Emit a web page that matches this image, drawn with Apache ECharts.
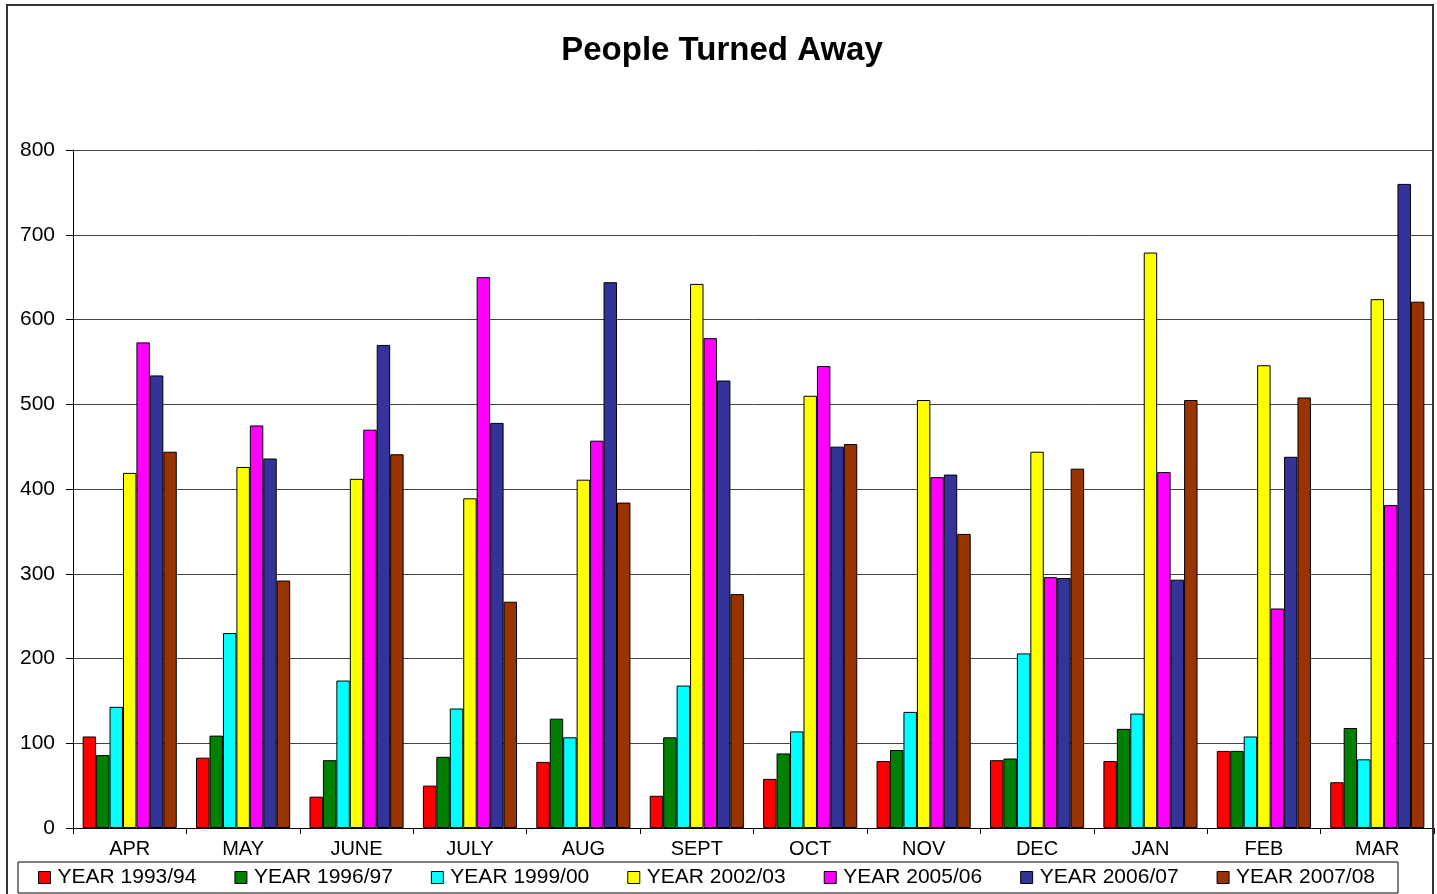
<!DOCTYPE html>
<html>
<head>
<meta charset="utf-8">
<title>People Turned Away</title>
<script src="https://cdn.jsdelivr.net/npm/echarts@6/dist/echarts.min.js"></script>
<style>
  html, body { margin: 0; padding: 0; background: #fff; }
  #chart { width: 1437px; height: 894px; }
</style>
</head>
<body>
<div id="chart"></div>
<script>
// Months of the financial year (April to March)
const months = ['APR', 'MAY', 'JUNE', 'JULY', 'AUG', 'SEPT', 'OCT', 'NOV', 'DEC', 'JAN', 'FEB', 'MAR'];

// People turned away per month, one array per year
const year1993 = [108, 83, 37, 50, 78, 38, 58, 79, 80, 79, 91, 54];
const year1996 = [86, 109, 80, 84, 129, 107, 88, 92, 82, 117, 91, 118];
const year1999 = [143, 230, 174, 141, 107, 168, 114, 137, 206, 135, 108, 81];
const year2002 = [419, 426, 412, 389, 411, 642, 510, 505, 444, 679, 546, 624];
const year2005 = [573, 475, 470, 650, 457, 578, 545, 414, 296, 420, 259, 381];
const year2006 = [534, 436, 570, 478, 644, 528, 450, 417, 295, 293, 438, 760];
const year2007 = [444, 292, 441, 267, 384, 276, 453, 347, 424, 505, 508, 621];

const seriesNames = ['YEAR 1993/94', 'YEAR 1996/97', 'YEAR 1999/00', 'YEAR 2002/03', 'YEAR 2005/06', 'YEAR 2006/07', 'YEAR 2007/08'];
const seriesValues = [year1993, year1996, year1999, year2002, year2005, year2006, year2007];
const seriesColors = ['#FF0000', '#008000', '#00FFFF', '#FFFF00', '#FF00FF', '#333399', '#993300'];

const yTicks = { min: 0, max: 800, interval: 100 };

const FONT = '"Liberation Sans", Arial, sans-serif';

const chart = echarts.init(document.getElementById('chart'), null, { renderer: 'canvas' });

chart.setOption({
  backgroundColor: '#ffffff',
  animation: false,
  color: seriesColors,
  title: {
    text: 'People Turned Away',
    left: 717,
    textAlign: 'center',
    top: 29,
    textStyle: { fontFamily: FONT, fontSize: 33, fontWeight: 'bold', color: '#000' }
  },
  graphic: [{
    type: 'rect',
    shape: { x: 7, y: 5, width: 1426, height: 900 },
    style: { fill: 'none', stroke: '#333', lineWidth: 2 },
    silent: true,
    z: 100
  }],
  legend: {
    left: 18,
    top: 862,
    orient: 'horizontal',
    itemWidth: 12,
    itemHeight: 12,
    itemGap: 38,
    padding: [5, 23, 5, 20],
    borderColor: '#000',
    borderWidth: 1,
    icon: 'rect',
    itemStyle: { borderColor: '#000', borderWidth: 1 },
    textStyle: { fontFamily: FONT, fontSize: 21, color: '#000', padding: [0, 0, 0, 2] },
    data: seriesNames
  },
  grid: { left: 73, right: 3, top: 150, bottom: 66, containLabel: false },
  xAxis: {
    type: 'category',
    data: months,
    axisLine: { lineStyle: { color: '#000', width: 1 } },
    axisTick: { show: true, length: 6, alignWithLabel: false, lineStyle: { color: '#000' } },
    axisLabel: { fontFamily: FONT, fontSize: 20, color: '#000', margin: 11 },
    splitLine: { show: false }
  },
  yAxis: {
    type: 'value',
    min: yTicks.min,
    max: yTicks.max,
    interval: yTicks.interval,
    axisLine: { show: true, lineStyle: { color: '#000', width: 1 } },
    axisTick: { show: true, length: 7, lineStyle: { color: '#000' } },
    axisLabel: { fontFamily: FONT, fontSize: 21, color: '#000', margin: 18 },
    splitLine: { show: true, lineStyle: { color: '#444', width: 1 } }
  },
  series: seriesNames.map((name, i) => ({
    name: name,
    type: 'bar',
    data: seriesValues[i],
    barGap: '0%',
    barCategoryGap: '17%',
    itemStyle: { color: seriesColors[i], borderColor: '#000', borderWidth: 1 }
  }))
});
</script>
</body>
</html>
